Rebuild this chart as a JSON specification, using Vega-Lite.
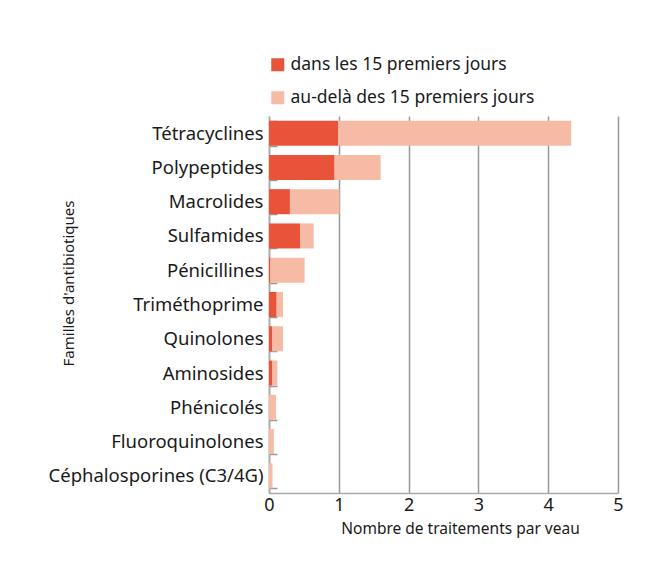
{
  "$schema": "https://vega.github.io/schema/vega-lite/v6.json",
  "autosize": {"type": "none"},
  "padding": {"left": 269, "top": 116, "right": 29, "bottom": 73},
  "width": 349,
  "height": 377,
  "background": "white",
  "config": {
    "font": "Noto Sans",
    "view": {"stroke": null}
  },
  "data": {
    "values": [
      {"famille": "Tétracyclines", "periode": "dans les 15 premiers jours", "ord": 1, "valeur": 0.99},
      {"famille": "Tétracyclines", "periode": "au-delà des 15 premiers jours", "ord": 2, "valeur": 3.34},
      {"famille": "Polypeptides", "periode": "dans les 15 premiers jours", "ord": 1, "valeur": 0.94},
      {"famille": "Polypeptides", "periode": "au-delà des 15 premiers jours", "ord": 2, "valeur": 0.66},
      {"famille": "Macrolides", "periode": "dans les 15 premiers jours", "ord": 1, "valeur": 0.30},
      {"famille": "Macrolides", "periode": "au-delà des 15 premiers jours", "ord": 2, "valeur": 0.71},
      {"famille": "Sulfamides", "periode": "dans les 15 premiers jours", "ord": 1, "valeur": 0.45},
      {"famille": "Sulfamides", "periode": "au-delà des 15 premiers jours", "ord": 2, "valeur": 0.19},
      {"famille": "Pénicillines", "periode": "dans les 15 premiers jours", "ord": 1, "valeur": 0.02},
      {"famille": "Pénicillines", "periode": "au-delà des 15 premiers jours", "ord": 2, "valeur": 0.49},
      {"famille": "Triméthoprime", "periode": "dans les 15 premiers jours", "ord": 1, "valeur": 0.11},
      {"famille": "Triméthoprime", "periode": "au-delà des 15 premiers jours", "ord": 2, "valeur": 0.09},
      {"famille": "Quinolones", "periode": "dans les 15 premiers jours", "ord": 1, "valeur": 0.05},
      {"famille": "Quinolones", "periode": "au-delà des 15 premiers jours", "ord": 2, "valeur": 0.15},
      {"famille": "Aminosides", "periode": "dans les 15 premiers jours", "ord": 1, "valeur": 0.05},
      {"famille": "Aminosides", "periode": "au-delà des 15 premiers jours", "ord": 2, "valeur": 0.07},
      {"famille": "Phénicolés", "periode": "dans les 15 premiers jours", "ord": 1, "valeur": 0.0},
      {"famille": "Phénicolés", "periode": "au-delà des 15 premiers jours", "ord": 2, "valeur": 0.10},
      {"famille": "Fluoroquinolones", "periode": "dans les 15 premiers jours", "ord": 1, "valeur": 0.0},
      {"famille": "Fluoroquinolones", "periode": "au-delà des 15 premiers jours", "ord": 2, "valeur": 0.07},
      {"famille": "Céphalosporines (C3/4G)", "periode": "dans les 15 premiers jours", "ord": 1, "valeur": 0.0},
      {"famille": "Céphalosporines (C3/4G)", "periode": "au-delà des 15 premiers jours", "ord": 2, "valeur": 0.05}
    ]
  },
  "mark": {"type": "bar"},
  "encoding": {
    "y": {
      "field": "famille",
      "type": "nominal",
      "sort": null,
      "scale": {"paddingInner": 0.27, "paddingOuter": 0.135},
      "axis": {
        "title": "Familles d'antibiotiques",
        "titleFontSize": 15,
        "titleFontWeight": "normal",
        "titleColor": "#1a1a1a",
        "titleX": -201,
        "titleY": 167,
        "titleAngle": -90,
        "titleAlign": "center",
        "titleBaseline": "middle",
        "labelFontSize": 18.5,
        "labelColor": "#1a1a1a",
        "labelPadding": 14,
        "labelLimit": 300,
        "tickBand": "extent",
        "tickSize": -8,
        "tickColor": "#999999",
        "tickWidth": 1.5,
        "domainColor": "#aaaaaa",
        "domainWidth": 1.5
      }
    },
    "x": {
      "field": "valeur",
      "type": "quantitative",
      "stack": "zero",
      "scale": {"domain": [0, 5], "nice": false},
      "axis": {
        "title": "Nombre de traitements par veau",
        "titleFontSize": 15.5,
        "titleFontWeight": "normal",
        "titleColor": "#1a1a1a",
        "titleX": 191,
        "titlePadding": 7,
        "values": [0, 1, 2, 3, 4, 5],
        "labelFontSize": 18,
        "labelColor": "#1a1a1a",
        "labelPadding": 3,
        "labelFlush": false,
        "ticks": false,
        "grid": true,
        "gridColor": "#999999",
        "gridWidth": 1.5,
        "domainColor": "#aaaaaa",
        "domainWidth": 1.5
      }
    },
    "color": {
      "field": "periode",
      "type": "nominal",
      "sort": ["dans les 15 premiers jours", "au-delà des 15 premiers jours"],
      "scale": {
        "domain": ["dans les 15 premiers jours", "au-delà des 15 premiers jours"],
        "range": ["#E8533A", "#F5BBA4"]
      },
      "legend": {
        "title": null,
        "orient": "none",
        "legendX": 0,
        "legendY": -60,
        "symbolType": "square",
        "symbolSize": 169,
        "symbolStrokeWidth": 0,
        "labelFontSize": 17.5,
        "labelColor": "#1a1a1a",
        "labelOffset": 4,
        "rowPadding": 14,
        "labelLimit": 400
      }
    },
    "order": {"field": "ord", "type": "quantitative"}
  }
}
